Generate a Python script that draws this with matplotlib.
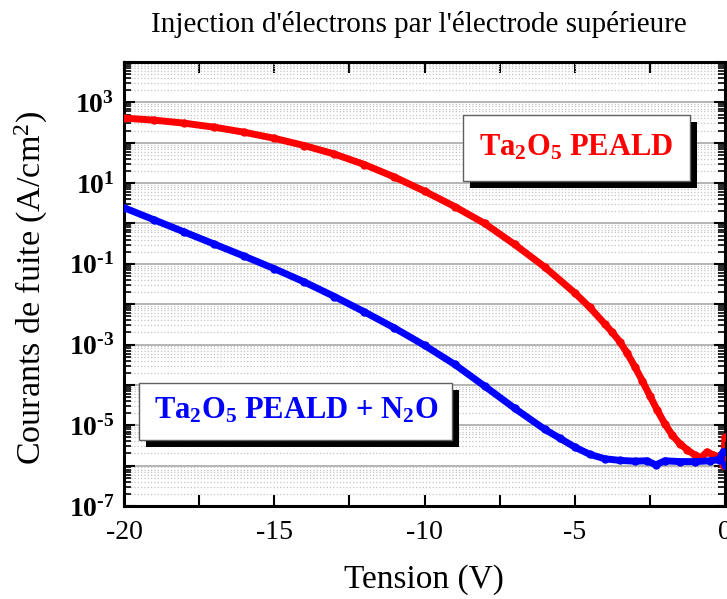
import matplotlib
matplotlib.use("Agg")
import matplotlib.pyplot as plt
from matplotlib.patches import Rectangle
from matplotlib.ticker import FixedLocator, NullFormatter
import numpy as np

plt.rcParams['font.family'] = ['Liberation Serif', 'DejaVu Serif']
plt.rcParams['mathtext.fontset'] = 'custom'
plt.rcParams['mathtext.rm'] = 'Liberation Serif'
plt.rcParams['mathtext.bf'] = 'Liberation Serif:bold'
plt.rcParams['mathtext.it'] = 'Liberation Serif:italic'

# Leakage current vs. voltage, log10 of J in A/cm2
v_peald = [-20, -19, -18, -17, -16, -15, -14, -13, -12, -11, -10, -9, -8, -7, -6, -5, -4.5,
           -4, -3.75, -3.5, -3.25, -3, -2.75, -2.5, -2.25, -2, -1.75, -1.5, -1.25, -1.0,
           -0.8, -0.6, -0.4, -0.2, -0.1, -0.05, 0]
logj_peald = [2.61, 2.56, 2.485, 2.385, 2.26, 2.11, 1.93, 1.72, 1.46, 1.15, 0.80, 0.42, 0.0,
              -0.52, -1.08, -1.72, -2.08, -2.49, -2.70, -2.93, -3.22, -3.55, -3.90, -4.27,
              -4.63, -4.97, -5.25, -5.46, -5.61, -5.74, -5.80, -5.66, -5.73, -5.78, -5.80,
              -5.98, -5.30]

v_n2o = [-20, -19, -18, -17, -16, -15, -14, -13, -12, -11, -10, -9, -8, -7, -6, -5.5, -5,
         -4.5, -4, -3.5, -3.0, -2.6, -2.3, -2.0, -1.5, -1.0, -0.5, -0.2, -0.05, 0]
logj_n2o = [0.39, 0.09, -0.21, -0.51, -0.81, -1.12, -1.45, -1.81, -2.19, -2.59, -3.02, -3.49,
            -4.03, -4.58, -5.10, -5.32, -5.54, -5.72, -5.83, -5.87, -5.89, -5.88, -5.98,
            -5.88, -5.90, -5.90, -5.88, -5.85, -5.65, -5.98]

x_ticks = [-20, -15, -10, -5, 0]
y_decades = list(range(-7, 5))
y_labelled = [3, 1, -1, -3, -5, -7]

W, H = 727, 599
fig = plt.figure(figsize=(W / 100, H / 100), dpi=100)
ax = fig.add_axes([124 / W, 1 - 506 / H, 601 / W, 444 / H])

j_peald = 10.0 ** np.array(logj_peald)
j_n2o = 10.0 ** np.array(logj_n2o)

ax.semilogy(v_peald, j_peald, color='#ff0000', lw=5, marker='o', ms=6, mew=0,
            solid_capstyle='round', solid_joinstyle='round', zorder=3)
ax.semilogy(v_n2o, j_n2o, color='#0000ff', lw=5, marker='o', ms=6, mew=0,
            solid_capstyle='round', solid_joinstyle='round', zorder=3)

ax.set_xlim(-20, 0)
ax.set_ylim(1e-7, 1e4)


def dec_label(e):
    # bold power of ten, plain hyphen for negative exponents
    s = str(abs(e)) if e >= 0 else '\u2010' + str(abs(e))
    return r'$\mathbf{10^{%s}}$' % s


xt = np.arange(-20, 0.1, 2.5)
ax.xaxis.set_major_locator(FixedLocator(xt))
ax.set_xticklabels(['%d' % t if t in x_ticks else '' for t in xt])
ax.yaxis.set_major_locator(FixedLocator([10.0 ** e for e in y_decades]))
ax.set_yticklabels([dec_label(e) if e in y_labelled else '' for e in y_decades])
minors = [m * 10.0 ** e for e in y_decades[:-1] for m in range(2, 10)]
ax.yaxis.set_minor_locator(FixedLocator(minors))
ax.yaxis.set_minor_formatter(NullFormatter())

ax.tick_params(axis='both', which='major', direction='in', length=8, width=1.5,
               top=True, right=True, labelsize=20)
ax.tick_params(axis='y', which='minor', direction='in', length=5, width=1.2,
               left=True, right=True)
ax.tick_params(axis='x', which='major', pad=10)
ax.tick_params(axis='y', which='major', pad=7)

for s in ax.spines.values():
    s.set_linewidth(2.2)

ax.grid(True, which='major', axis='y', color='#a8a8a8', lw=1.2, ls='-')
ax.grid(True, which='minor', axis='y', color='#c4c4c4', lw=0.9, ls=':')
ax.set_axisbelow(True)


def px_rect(x0, y0, x1, y1, **kw):
    # rectangle given in figure pixels, origin at top-left
    return Rectangle((x0 / W, 1 - y1 / H), (x1 - x0) / W, (y1 - y0) / H,
                     transform=fig.transFigure, **kw)


# label boxes with drop shadow
for (x0, y0, x1, y1) in [(463, 115, 690, 181), (139, 383, 452, 440)]:
    fig.patches.append(px_rect(x0 + 7, y0 + 7, x1 + 7, y1 + 7, facecolor='black',
                               edgecolor='none', zorder=5))
    fig.patches.append(px_rect(x0, y0, x1, y1, facecolor='white',
                               edgecolor='#606060', lw=1, zorder=6))

fig.text(576 / W, 1 - 148 / H, r'$\mathbf{Ta_2O_5}$ PEALD', color='#ff0000',
         fontsize=22, fontweight='bold', ha='center', va='center', zorder=7)
fig.text(296 / W, 1 - 411 / H, r'$\mathbf{Ta_2O_5}$ PEALD + N$\mathbf{_2}$O', color='#0000ff',
         fontsize=22, fontweight='bold', ha='center', va='center', zorder=7)

fig.text(419 / W, 1 - 32 / H, "Injection d'électrons par l'électrode supérieure",
         fontsize=21, ha='center', va='baseline')
fig.text(31 / W, 1 - 288 / H, 'Courants de fuite (A/cm$^2$)', fontsize=24.5,
         rotation=90, ha='center', va='center')
fig.text(424 / W, 1 - 580 / H, 'Tension (V)', fontsize=24, ha='center', va='center')

fig.savefig('out.png', dpi=100)
